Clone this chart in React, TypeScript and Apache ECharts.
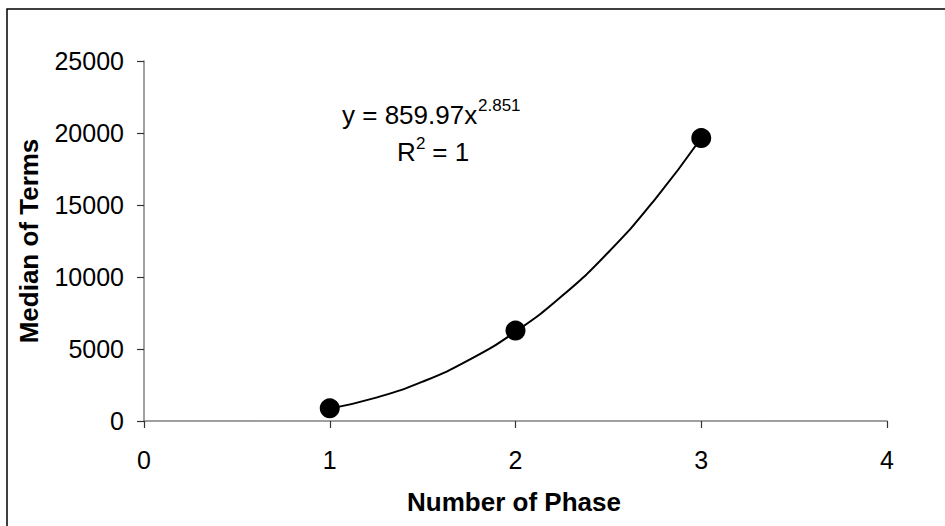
import React, { useEffect, useRef } from "react";
import * as echarts from "echarts";

const xTicks = [0, 1, 2, 3, 4];
const yTicks = [0, 5000, 10000, 15000, 20000, 25000];
const phases = [1, 2, 3];
const medians = [880, 6280, 19650];
const trendX = [1, 1.25, 1.5, 1.75, 2, 2.25, 2.5, 2.75, 3];
const trendY = [860, 1625, 2730, 4240, 6200, 8680, 11720, 15380, 19650];
const xTitle = "Number of Phase";
const yTitle = "Median of Terms";
const equationMain = "y = 859.97x";
const equationExp = "2.851";
const rLabel = "R";
const rExp = "2";
const rValue = " = 1";

const FONT = "Arial, 'Liberation Sans', sans-serif";

export default function App() {
  const ref = useRef<HTMLDivElement>(null);
  useEffect(() => {
    if (!ref.current) return;
    const chart = echarts.init(ref.current, null, { renderer: "svg" });
    chart.setOption({
      animation: false,
      backgroundColor: "#ffffff",
      grid: { left: 144, right: 58, top: 61, bottom: 105, containLabel: false },
      xAxis: {
        type: "value",
        min: xTicks[0],
        max: xTicks[xTicks.length - 1],
        interval: 1,
        axisLine: { show: true, onZero: false, lineStyle: { color: "#808080", width: 1.5 } },
        axisTick: { show: true, inside: false, length: 7, lineStyle: { color: "#333", width: 1.2 } },
        axisLabel: { margin: 26, color: "#000", fontSize: 25, fontFamily: FONT, formatter: (v: number) => String(v) },
        splitLine: { show: false },
      },
      yAxis: {
        type: "value",
        min: yTicks[0],
        max: yTicks[yTicks.length - 1],
        interval: 5000,
        axisLine: { show: true, onZero: false, lineStyle: { color: "#808080", width: 1.5 } },
        axisTick: { show: true, inside: false, length: 7, lineStyle: { color: "#333", width: 1.2 } },
        axisLabel: { margin: 20, color: "#000", fontSize: 25, fontFamily: FONT, formatter: (v: number) => String(v) },
        splitLine: { show: false },
      },
      series: [
        {
          type: "line",
          data: trendX.map((x, i) => [x, trendY[i]]),
          smooth: true,
          symbol: "none",
          lineStyle: { color: "#000", width: 2 },
          z: 2,
        },
        {
          type: "scatter",
          data: phases.map((x, i) => [x, medians[i]]),
          symbol: "circle",
          symbolSize: 20,
          itemStyle: { color: "#000", opacity: 1 },
          z: 3,
        },
      ],
      graphic: [
        {
          type: "rect",
          shape: { x: 7, y: 9, width: 1200, height: 1200 },
          style: { fill: "none", stroke: "#000", lineWidth: 1.5 },
          silent: true,
        },
        {
          type: "text",
          x: 514,
          y: 502,
          style: { text: xTitle, font: `bold 26px ${FONT}`, fill: "#000", align: "center", verticalAlign: "middle" },
        },
        {
          type: "text",
          x: 29,
          y: 241,
          rotation: Math.PI / 2,
          style: { text: yTitle, font: `bold 26px ${FONT}`, fill: "#000", align: "center", verticalAlign: "middle" },
        },
        {
          type: "text",
          x: 342,
          y: 115,
          style: { text: equationMain, font: `26px ${FONT}`, fill: "#000", align: "left", verticalAlign: "middle" },
        },
        {
          type: "text",
          x: 478,
          y: 105,
          style: { text: equationExp, font: `17px ${FONT}`, fill: "#000", align: "left", verticalAlign: "middle" },
        },
        {
          type: "text",
          x: 397,
          y: 152,
          style: { text: rLabel, font: `26px ${FONT}`, fill: "#000", align: "left", verticalAlign: "middle" },
        },
        {
          type: "text",
          x: 416,
          y: 143,
          style: { text: rExp, font: `17px ${FONT}`, fill: "#000", align: "left", verticalAlign: "middle" },
        },
        {
          type: "text",
          x: 425,
          y: 152,
          style: { text: rValue, font: `26px ${FONT}`, fill: "#000", align: "left", verticalAlign: "middle" },
        },
      ],
    });
    return () => chart.dispose();
  }, []);
  return (
    <div
      ref={ref}
      style={{ position: "fixed", left: 0, top: 0, width: 945, height: 526, background: "#fff" }}
    />
  );
}
